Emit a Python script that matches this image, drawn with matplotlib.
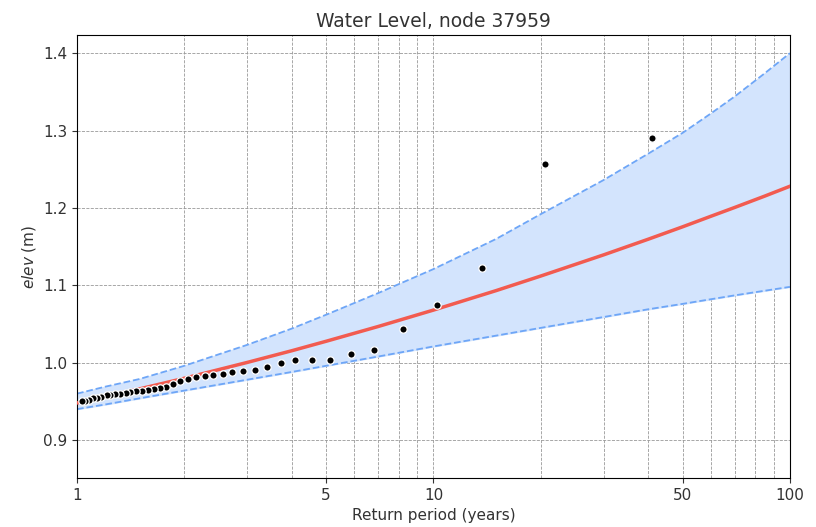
import numpy as np
import matplotlib
matplotlib.use("Agg")
import matplotlib.pyplot as plt
from matplotlib.ticker import FixedLocator, NullFormatter, FixedFormatter

# observed annual maxima (return period in years, elevation in m)
obs_T = [41.0, 20.5, 13.67, 10.25, 8.2, 6.83, 5.86, 5.13, 4.56, 4.1,
         3.73, 3.42, 3.15, 2.93, 2.73, 2.56, 2.41, 2.28, 2.16, 2.05,
         1.95, 1.86, 1.78, 1.71, 1.64, 1.58, 1.52, 1.46, 1.41, 1.37,
         1.32, 1.28, 1.24, 1.21, 1.17, 1.14, 1.11, 1.08, 1.05, 1.03]
obs_elev = [1.290, 1.257, 1.122, 1.075, 1.044, 1.017, 1.011, 1.004, 1.003, 1.003,
            1.000, 0.994, 0.991, 0.989, 0.988, 0.985, 0.9835, 0.9826, 0.981, 0.979,
            0.976, 0.972, 0.969, 0.967, 0.966, 0.965, 0.964, 0.963, 0.9615, 0.961,
            0.960, 0.959, 0.958, 0.958, 0.956, 0.955, 0.954, 0.952, 0.951, 0.950]

# fitted curve and confidence band
fit_T = [1, 1.2, 1.5, 2, 3, 4, 5, 7, 10, 15, 20, 30, 40, 50, 60, 70, 85, 100]
fit_elev = [0.948, 0.9562, 0.9662, 0.9799, 1.0003, 1.0154, 1.0277, 1.0468, 1.068, 1.0932,
            1.1120, 1.1393, 1.1595, 1.1756, 1.1892, 1.2006, 1.2153, 1.228]
upper = [0.960, 0.969, 0.979, 0.996, 1.023, 1.044, 1.062, 1.090, 1.121, 1.160,
         1.192, 1.236, 1.270, 1.297, 1.322, 1.344, 1.374, 1.400]
lower = [0.940, 0.946, 0.954, 0.964, 0.978, 0.988, 0.996, 1.008, 1.021, 1.035,
         1.045, 1.059, 1.069, 1.076, 1.082, 1.087, 1.093, 1.098]

fig = plt.figure(figsize=(8.16, 5.27), dpi=100)
ax = fig.add_axes([0.0944, 0.093, 0.8736, 0.8406])

ax.fill_between(fit_T, lower, upper, color="#d3e4fd", zorder=1)
ax.plot(fit_T, upper, ls="--", color="#6ea6f7", lw=1.3, zorder=2)
ax.plot(fit_T, lower, ls="--", color="#6ea6f7", lw=1.3, zorder=2)
ax.plot(fit_T, fit_elev, color="#f25b50", lw=2.5, zorder=3)
ax.scatter(obs_T, obs_elev, s=28, color="black", edgecolors="white", linewidths=0.9, zorder=4)

ax.set_xscale("log")
ax.set_xlim(1, 100)
ax.set_ylim(0.851, 1.4235)

ax.xaxis.set_major_locator(FixedLocator([1, 5, 10, 50, 100]))
ax.xaxis.set_major_formatter(FixedFormatter(["1", "5", "10", "50", "100"]))
ax.xaxis.set_minor_locator(FixedLocator([2, 3, 4, 6, 7, 8, 9, 20, 30, 40, 60, 70, 80, 90]))
ax.xaxis.set_minor_formatter(NullFormatter())
ax.tick_params(axis="x", which="minor", length=0)
ax.set_yticks([0.9, 1.0, 1.1, 1.2, 1.3, 1.4])
ax.tick_params(labelsize=11, colors="#333333")

ax.grid(True, which="both", ls="--", color="#999999", lw=0.6, zorder=0)
ax.set_axisbelow(True)

ax.set_xlabel("Return period (years)", fontsize=11, color="#333333")
ax.set_ylabel("$elev$ (m)", fontsize=11, color="#333333")
ax.set_title("Water Level, node 37959", fontsize=13.5, color="#333333")

fig.savefig("out.png", dpi=100)
